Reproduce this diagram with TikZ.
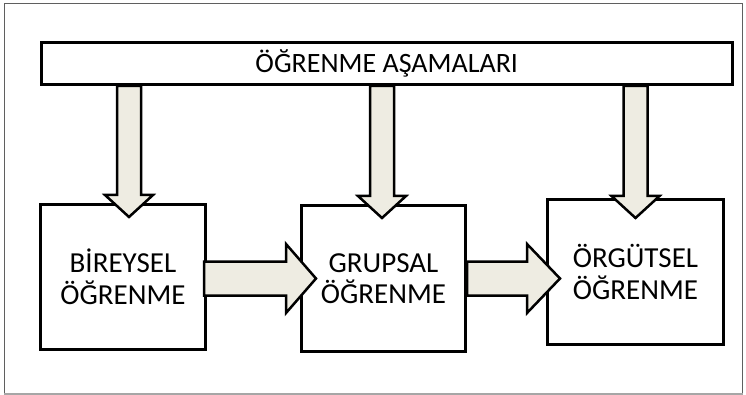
\documentclass[tikz,border=0pt]{standalone}
\usepackage{fontspec}
\setmainfont{Carlito}
\usetikzlibrary{calc}

\definecolor{arrowfill}{RGB}{238,236,226}
\definecolor{framegray}{RGB}{95,95,95}

% vertical block arrow: #1 start (top of shaft), #2 tip
\newcommand\vblockarrow[2]{%
  \draw[blockarrow] let \p1=(#1), \p2=(#2) in
    (\x2-12,\y1) -- (\x2+12,\y1) -- (\x2+12,\y2+22) -- (\x2+24,\y2+22)
    -- (\x2,\y2) -- (\x2-24,\y2+22) -- (\x2-12,\y2+22) -- cycle;}
% horizontal block arrow: #1 start (left end of shaft), #2 tip, #3 head length
\newcommand\hblockarrow[3]{%
  \draw[blockarrow] let \p1=(#1), \p2=(#2) in
    (\x1,\y2+17) -- (\x2-#3,\y2+17) -- (\x2-#3,\y2+34.5) -- (\x2,\y2)
    -- (\x2-#3,\y2-34.5) -- (\x2-#3,\y2-17) -- (\x1,\y2-17) -- cycle;}

\tikzset{
  stagebox/.style={draw=black, line width=3pt, fill=white, align=center,
    inner sep=0pt, font=\fontsize{29}{31.5}\selectfont},
  blockarrow/.style={draw=black, line width=2.5pt, fill=arrowfill,
    line join=miter},
}

\begin{document}
\begin{tikzpicture}[x=1pt, y=-1pt]
  \useasboundingbox (0,0) rectangle (746,395);
  % outer frame
  \draw[framegray, line width=1pt] (4,3.5) rectangle (742.5,393);
  \draw[gray!70, line width=2pt] (4,393.5) -- (742.5,393.5);

  % header bar and the three stages
  \node[stagebox, minimum width=691.5pt, minimum height=42pt,
    font=\fontsize{28}{31}\selectfont]
    (bar) at (386.75,63.5) {ÖĞRENME AŞAMALARI};
  \node[stagebox, minimum width=165pt, minimum height=145pt]
    (b1) at (123,277) {BİREYSEL\\ÖĞRENME};
  \node[stagebox, minimum width=164pt, minimum height=146pt]
    (b2) at (383.5,278.5) {GRUPSAL\\ÖĞRENME};
  \node[stagebox, minimum width=176pt, minimum height=145pt]
    (b3) at (635.5,272) {ÖRGÜTSEL\\ÖĞRENME};

  % arrows from the header down to each stage
  \coordinate (d1s) at ([xshift=6pt]b1.north |- bar.south);
  \coordinate (d1t) at ([xshift=6pt,yshift=-14pt]b1.north);
  \coordinate (d2s) at ([xshift=-1.5pt]b2.north |- bar.south);
  \coordinate (d2t) at ([xshift=-1.5pt,yshift=-14pt]b2.north);
  \coordinate (d3s) at (b3.north |- bar.south);
  \coordinate (d3t) at ([yshift=-20pt]b3.north);
  \vblockarrow{d1s}{d1t}
  \vblockarrow{d2s}{d2t}
  \vblockarrow{d3s}{d3t}

  % arrows between the stages
  \coordinate (h1s) at ([xshift=-3pt]b1.east);
  \coordinate (h1t) at ([xshift=16pt]b2.west |- 0,278.5);
  \coordinate (h2s) at (b2.east);
  \coordinate (h2t) at ([xshift=14pt]b3.west |- 0,278.5);
  \hblockarrow{h1s}{h1t}{30}
  \hblockarrow{h2s}{h2t}{33}
\end{tikzpicture}
\end{document}
